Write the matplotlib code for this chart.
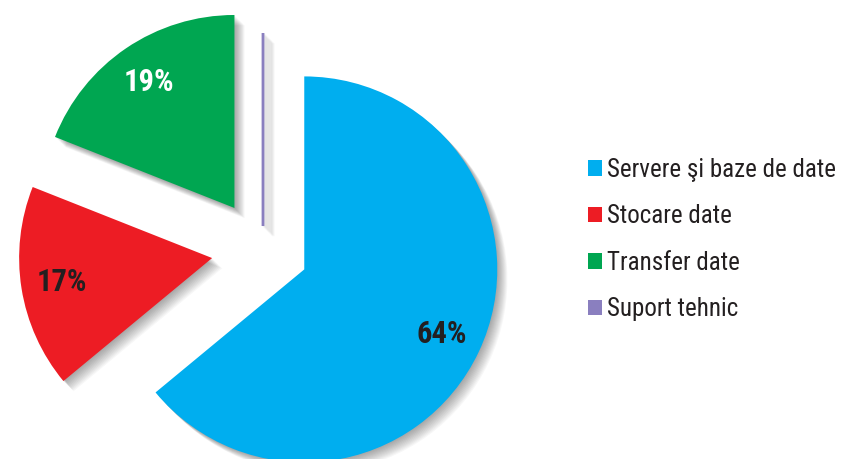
import matplotlib
matplotlib.use("Agg")
import matplotlib.pyplot as plt
from matplotlib import font_manager
from matplotlib.patches import Wedge, Patch

# Data
categories = ["Servere şi baze de date", "Stocare date", "Transfer date", "Suport tehnic"]
shares = [64, 17, 19, 0]
colors = ["#00AEEF", "#ED1C24", "#00A651", "#8A7FBF"]
label_colors = ["#231F20", "#231F20", "#FFFFFF", "#231F20"]

# Condensed sans face, with fallbacks
available = {f.name for f in font_manager.fontManager.ttflist}
faces = [f for f in ("Roboto Condensed", "Archivo Narrow", "Liberation Sans") if f in available]
plt.rcParams["font.family"] = faces + ["DejaVu Sans"]

W, H = 847, 459
fig = plt.figure(figsize=(W / 100, H / 100), dpi=100)
ax = fig.add_axes([0, 0, 1, 1])

radius = 193
center = (263, H - 250)
explode = [45.6, 51.5, 50.8, 24]

wedges, texts, autotexts = ax.pie(
    shares,
    colors=colors,
    startangle=90,
    counterclock=False,
    radius=radius,
    center=center,
    explode=explode,
    autopct=lambda p: f"{p:.0f}%" if p > 0 else "",
    pctdistance=0.79,
    wedgeprops=dict(linewidth=0),
    textprops=dict(fontsize=22, fontweight=600),
    frame=True,
)
ax.set_xlim(0, W)
ax.set_ylim(0, H)
ax.set_aspect("equal")
ax.axis("off")

for t, c in zip(autotexts, label_colors):
    t.set_color(c)

# zero-width slice is drawn as a thin radial line
wedges[-1].set_edgecolor(colors[-1])
wedges[-1].set_linewidth(2)

# soft drop shadow under each slice
for w in wedges:
    line = w.theta1 == w.theta2
    for k in range(1, 13):
        off = k * 0.85
        sh = Wedge((w.center[0] + off, w.center[1] - off), w.r, w.theta1, w.theta2,
                   facecolor="#000000", edgecolor="#000000" if line else "none",
                   linewidth=2 if line else 0,
                   alpha=0.03, zorder=w.get_zorder() - 0.5)
        ax.add_patch(sh)

handles = [Patch(facecolor=c, edgecolor="none") for c in colors]
leg = fig.legend(handles, categories, loc="center left",
                 bbox_to_anchor=(588 / W, 1 - 239.5 / H),
                 frameon=False, fontsize=18, handlelength=0.56, handleheight=0.56,
                 handletextpad=0.2, labelspacing=0.9, borderaxespad=0, borderpad=0)
for t in leg.get_texts():
    t.set_color("#231F20")

fig.savefig("out.png", dpi=100)
